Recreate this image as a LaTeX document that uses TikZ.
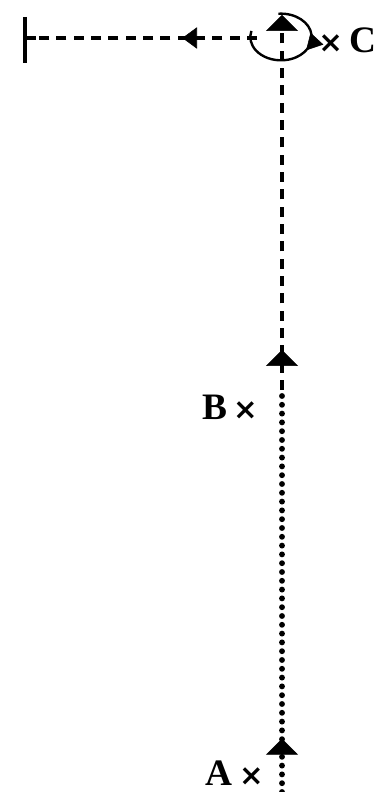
\documentclass[tikz,border=0pt]{standalone}
\usepackage{fontspec}
\setmainfont{Liberation Serif}
\newfontfamily\crossfont{DejaVu Sans}
\usetikzlibrary{arrows.meta, decorations.markings}
\tikzset{
  bigtip/.tip={Triangle[width=24pt, length=12pt, line width=0.4pt]},
  sidetip/.tip={Triangle[width=16pt, length=11pt, line width=0.4pt]},
  turntip/.tip={Triangle[width=13pt, length=12pt, line width=0.4pt]},
  dotline/.style={line width=4.4pt, line cap=round, dash pattern=on 0pt off 6.6pt},
  dashline/.style={line width=2.8pt, dash pattern=on 7.5pt off 5.5pt},
  arrowat/.style args={#1 at #2}{postaction={solid, decorate, decoration={markings, mark=at position #2 with {\arrow{#1}}}}},
  lab/.style={font=\fontsize{28}{32}\selectfont\bfseries, inner sep=0pt}
}
\newcommand{\cross}{{\crossfont\fontsize{22}{26}\selectfont\bfseries ×}}
\begin{document}
\begin{tikzpicture}[x=0.75pt, y=0.75pt]
\useasboundingbox (0,0) rectangle (387,792);
% points on the path
\coordinate (A) at (282,0);
\coordinate (B) at (282,402);
\coordinate (C) at (281,755);
\coordinate (Ctop) at (282,777);
\coordinate (Cleft) at (257,754);
\coordinate (W) at (25,754);
\coordinate (Wtick) at (36,754);
\coordinate (Wup) at (25,775);
\coordinate (Wdown) at (25,729);

% wall
\draw[line width=3pt] (Wup) -- (Wdown);
\draw[line width=3pt] (W) -- (Wtick);

% A to B, then B to C
\draw[dotline, arrowat={bigtip at 40pt}] (A) -- (B);
\draw[dashline, arrowat={bigtip at 30pt}, -{bigtip}] (B) -- (Ctop);
% sideways to the wall
\draw[dashline, arrowat={sidetip at 56pt}] (Cleft) -- (Wtick);

% turn at C
\draw[line width=1.8pt, arrowat={turntip at 0.44}]
  ([shift={(95:23pt and 17.5pt)}]C) arc[start angle=95, end angle=-195, x radius=23pt, y radius=17.5pt];

% labels
\node[lab, anchor=east] (labA) at (264,19) {A\,\cross};
\node[lab, anchor=east] (labB) at (258,385) {B\,\cross};
\node[lab, anchor=west] (labC) at (318,752) {\cross\,C};
\end{tikzpicture}
\end{document}
